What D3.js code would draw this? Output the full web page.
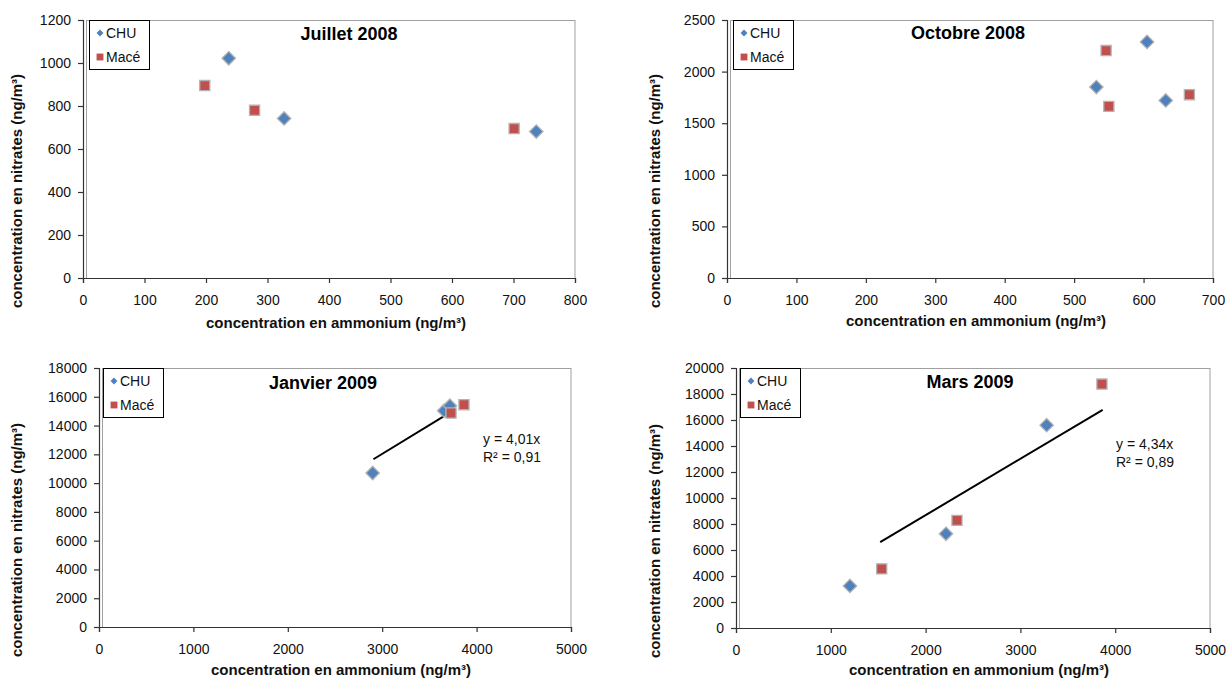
<!DOCTYPE html>
<html>
<head>
<meta charset="utf-8">
<script src="https://cdn.jsdelivr.net/npm/d3@7"></script>
<style>
  html, body { margin: 0; padding: 0; background: #fff; }
  svg { display: block; font-family: "Liberation Sans", Arial, sans-serif; }
</style>
</head>
<body>
<svg id="chart" width="1228" height="680"></svg>
<script>
// Nitrate vs ammonium concentrations, two sampling sites, four campaigns
const panelTitles = ["Juillet 2008", "Octobre 2008", "Janvier 2009", "Mars 2009"];
const seriesNames = ["CHU", "Macé"];
const xMax = [800, 700, 5000, 5000];
const xStep = [100, 100, 1000, 1000];
const yMax = [1200, 2500, 18000, 20000];
const yStep = [200, 500, 2000, 2000];

const chuJuillet = [[237, 1022], [327, 742], [737, 681]];
const maceJuillet = [[198, 895], [279, 780], [701, 695]];
const chuOctobre = [[532, 1850], [605, 2288], [632, 1721]];
const maceOctobre = [[546, 2204], [550, 1663], [666, 1776]];
const chuJanvier = [[2899, 10702], [3656, 15034], [3717, 15381]];
const maceJanvier = [[3729, 14871], [3866, 15450]];
const chuMars = [[1202, 3239], [2215, 7249], [3277, 15604]];
const maceMars = [[1537, 4550], [2331, 8278], [3860, 18766]];

// Linear fits through the origin (null where no fit is shown)
const trendSlope = [null, null, 4.01, 4.34];
const trendRange = [null, null, [2907, 3729], [1521, 3868]];
const trendEquation = [null, null, "y = 4,01x", "y = 4,34x"];
const trendR2 = [null, null, "R² = 0,91", "R² = 0,89"];

const xTitle = "concentration en ammonium (ng/m³)";
const yTitle = "concentration en nitrates (ng/m³)";

const chuSeries = [chuJuillet, chuOctobre, chuJanvier, chuMars];
const maceSeries = [maceJuillet, maceOctobre, maceJanvier, maceMars];

// Layout of each panel on the page
const layout = [
  { l: 83,  r: 575,  t: 20,  b: 278, yLabX: 17,  yLabY: 191, xLabX: 336, xLabY: 323, titleX: 349, titleY: 34,  legX: 89,  eqX: null, eqY: null },
  { l: 727, r: 1213, t: 20,  b: 278, yLabX: 655, yLabY: 191, xLabX: 976, xLabY: 321, titleX: 968, titleY: 33,  legX: 733, eqX: null, eqY: null },
  { l: 99,  r: 571,  t: 368, b: 627, yLabX: 17,  yLabY: 540, xLabX: 341, xLabY: 670, titleX: 323, titleY: 383, legX: 103, eqX: 483,  eqY: 439 },
  { l: 736, r: 1210, t: 368, b: 628, yLabX: 655, yLabY: 541, xLabX: 979, xLabY: 670, titleX: 970, titleY: 382, legX: 740, eqX: 1116, eqY: 444 }
];

const blue = "#4F81BD", red = "#C0504D", markerEdge = "#b3b3b3";
const svg = d3.select("#chart");

const diamond = d3.symbol().type(d3.symbolDiamond2);
const square = d3.symbol().type(d3.symbolSquare2);

panelTitles.forEach((title, i) => {
  const L = layout[i];
  const g = svg.append("g");
  const x = d3.scaleLinear().domain([0, xMax[i]]).range([L.l, L.r]);
  const y = d3.scaleLinear().domain([0, yMax[i]]).range([L.b, L.t]);
  const xTicks = d3.range(0, xMax[i] + 1, xStep[i]);
  const yTicks = d3.range(0, yMax[i] + 1, yStep[i]);

  // plot area frame
  g.append("rect")
    .attr("x", L.l + 3.5).attr("y", L.t + 0.5)
    .attr("width", L.r - L.l - 3.5).attr("height", L.b - L.t)
    .attr("fill", "none").attr("stroke", "#a0a0a0").attr("stroke-width", 1);

  // axes
  const xAxis = d3.axisBottom(x).tickValues(xTicks).tickSize(5).tickPadding(12).tickFormat(d3.format("d"));
  const yAxis = d3.axisLeft(y).tickValues(yTicks).tickSize(5).tickPadding(7).tickFormat(d3.format("d"));
  const gx = g.append("g").attr("transform", `translate(0,${L.b})`).call(xAxis);
  const gy = g.append("g").attr("transform", `translate(${L.l},0)`).call(yAxis);
  [gx, gy].forEach(a => {
    a.select(".domain").attr("stroke", "#333").attr("stroke-width", 1.2);
    a.selectAll(".tick line").attr("stroke", "#333").attr("stroke-width", 1.2);
    a.selectAll(".tick text").attr("fill", "#111").attr("font-size", 14)
      .attr("font-family", "'Liberation Sans', Arial, sans-serif");
  });

  // trend line
  if (trendSlope[i] !== null) {
    const [x0, x1] = trendRange[i];
    g.append("line")
      .attr("x1", x(x0)).attr("y1", y(trendSlope[i] * x0))
      .attr("x2", x(x1)).attr("y2", y(trendSlope[i] * x1))
      .attr("stroke", "#000").attr("stroke-width", 2);
    g.append("text").attr("x", L.eqX).attr("y", L.eqY + 5)
      .attr("font-size", 14).attr("fill", "#111").text(trendEquation[i]);
    g.append("text").attr("x", L.eqX).attr("y", L.eqY + 23)
      .attr("font-size", 14).attr("fill", "#111").text(trendR2[i]);
  }

  // markers
  g.selectAll("path.chu").data(chuSeries[i]).join("path")
    .attr("class", "chu")
    .attr("d", diamond.size(115)())
    .attr("transform", d => `translate(${x(d[0])},${y(d[1])})`)
    .attr("fill", blue).attr("stroke", markerEdge).attr("stroke-width", 1.3);
  g.selectAll("path.mace").data(maceSeries[i]).join("path")
    .attr("class", "mace")
    .attr("d", square.size(130)())
    .attr("transform", d => `translate(${x(d[0])},${y(d[1])})`)
    .attr("fill", red).attr("stroke", markerEdge).attr("stroke-width", 1.3);

  // title
  g.append("text").attr("x", L.titleX).attr("y", L.titleY + 6)
    .attr("text-anchor", "middle").attr("font-size", 18).attr("font-weight", "bold")
    .attr("fill", "#000").text(title);

  // axis titles
  g.append("text").attr("x", L.xLabX).attr("y", L.xLabY + 5)
    .attr("text-anchor", "middle").attr("font-size", 15).attr("font-weight", "bold")
    .attr("fill", "#111").text(xTitle);
  g.append("text")
    .attr("transform", `translate(${L.yLabX + 5},${L.yLabY}) rotate(-90)`)
    .attr("text-anchor", "middle").attr("font-size", 15).attr("font-weight", "bold")
    .attr("fill", "#111").text(yTitle);

  // legend
  const lg = g.append("g").attr("transform", `translate(${L.legX},${L.t})`);
  lg.append("rect").attr("x", 0.5).attr("y", 0.5).attr("width", 60).attr("height", 49)
    .attr("fill", "#fff").attr("stroke", "#000").attr("stroke-width", 1);
  const items = [
    { name: seriesNames[0], sym: d3.symbol().type(d3.symbolDiamond2).size(30)(), color: blue },
    { name: seriesNames[1], sym: d3.symbol().type(d3.symbolSquare2).size(60)(), color: red }
  ];
  items.forEach((it, k) => {
    const cy = 13 + k * 24;
    lg.append("path").attr("d", it.sym).attr("transform", `translate(11,${cy})`).attr("fill", it.color);
    lg.append("text").attr("x", 17).attr("y", cy + 5).attr("font-size", 14).attr("fill", "#111").text(it.name);
  });
});
</script>
</body>
</html>
